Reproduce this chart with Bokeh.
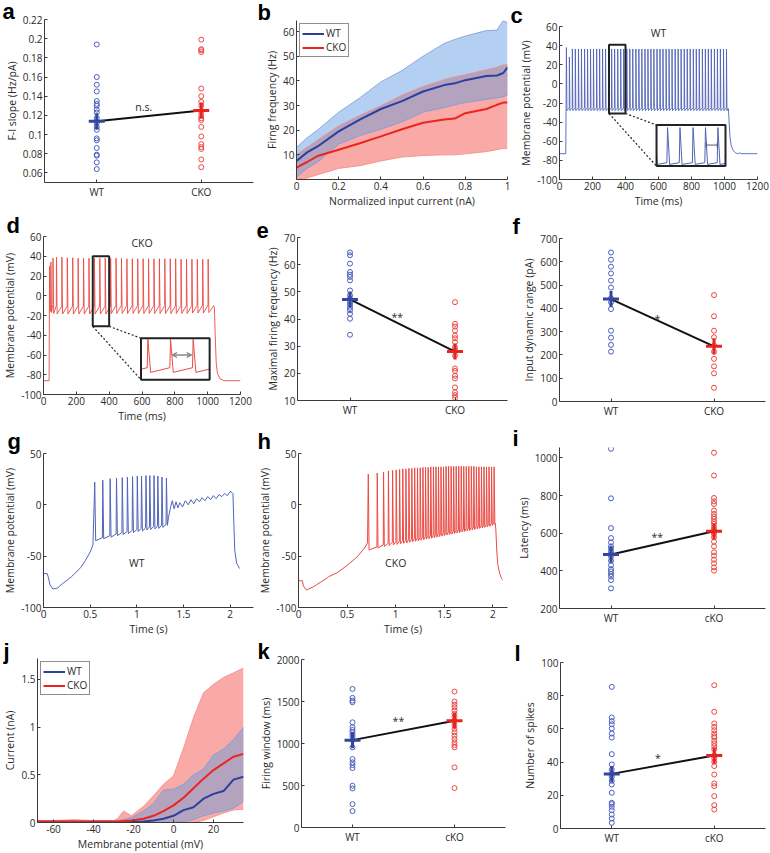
import numpy as np
from bokeh.plotting import figure
from bokeh.models import (Range1d, FixedTicker, PrintfTickFormatter, Label, Legend,
                          LegendItem, Arrow, VeeHead, TeeHead)
from bokeh.layouts import row, column
from bokeh.embed import file_html
from bokeh.resources import INLINE

# ======================= DATA =======================
groups_upper = ["WT", "CKO"]
groups_lower = ["WT", "cKO"]

# (a) F-I slope (Hz/pA)
fi_wt = [0.194, 0.160, 0.152, 0.145, 0.135, 0.132, 0.130, 0.126, 0.123, 0.117,
         0.112, 0.108, 0.105, 0.096, 0.094, 0.086, 0.079, 0.078, 0.071, 0.064]
fi_cko = [0.199, 0.189, 0.188, 0.186, 0.148, 0.140, 0.134, 0.130, 0.124, 0.120,
          0.117, 0.115, 0.108, 0.098, 0.090, 0.087, 0.085, 0.074, 0.066]
fi_mean = [0.114, 0.125]
fi_yticks = [0.06, 0.08, 0.10, 0.12, 0.14, 0.16, 0.18, 0.20, 0.22]

# (b) firing frequency vs normalized current
b_x = [0, 0.05, 0.1, 0.2, 0.3, 0.4, 0.5, 0.6, 0.7, 0.75, 0.8, 0.9, 0.95, 0.98, 1.0]
b_wt_mean = [7.5, 11.0, 13.4, 19.5, 24.3, 28.6, 31.8, 35.7, 38.3, 39.0, 40.3, 42.0, 42.2, 43.2, 45.5]
b_wt_hi = [13.0, 16.9, 20.1, 27.3, 33.1, 39.6, 44.2, 50.0, 55.2, 56.8, 58.2, 60.4, 60.6, 64.5, 63.6]
b_wt_lo = [0.9, 4.5, 7.1, 14.3, 17.8, 20.4, 23.4, 27.3, 29.2, 30.3, 31.2, 32.5, 33.1, 33.6, 34.2]
b_cko_mean = [4.8, 7.1, 9.5, 12.1, 14.7, 17.5, 20.4, 23.0, 24.3, 24.7, 26.9, 28.6, 30.3, 31.2, 31.2]
b_cko_hi = [10.0, 13.0, 16.0, 21.7, 26.0, 29.9, 34.2, 37.7, 40.5, 41.6, 42.5, 44.5, 45.5, 46.4, 46.5]
b_cko_lo = [0.0, 0.6, 1.9, 4.5, 5.6, 7.5, 9.1, 9.7, 10.0, 10.0, 10.4, 11.3, 12.1, 12.6, 12.6]
b_xticks = [0, 0.2, 0.4, 0.6, 0.8, 1.0]
b_yticks = [10, 20, 30, 40, 50, 60]

# (c) WT trace (ms, mV)
c_pre_t = [0, 38]
c_pre_v = [-73, -73]
c_spk_t = [42, 60, 78, 96, 115, 133, 152, 170, 188, 206, 225, 243, 261, 279, 298, 316,
           334, 353, 371, 389, 408, 426, 444, 463, 481, 499, 518, 536, 554, 572, 591,
           609, 627, 646, 664, 682, 701, 719, 737, 756, 774, 792, 811, 829, 847, 866,
           884, 902, 920, 939, 957, 975, 994, 1012]
c_first_peaks = [38, 28]
c_peak_level = 36.5
c_trough_level = -28
c_post_t = [1020, 1024, 1028, 1033, 1040, 1050, 1065, 1080, 1088, 1092, 1100, 1200]
c_post_v = [-26, -26, -40, -55, -64, -69, -72, -73, -72.5, -72, -73, -73]

# (d) CKO trace (ms, mV)
d_pre_t = [0, 34]
d_pre_v = [-86, -86]
d_spk_t = [37, 45, 58, 79, 112, 145, 178, 211, 244, 277, 310, 343, 376, 409, 442, 475,
           508, 541, 574, 607, 640, 673, 706, 739, 772, 805, 838, 871, 904, 937, 970, 1003]
d_spk_pk = [30, 34, 38, 39, 39, 38.5, 38.5, 38, 38, 38, 38, 38, 38, 38, 38, 38,
            37.5, 37.5, 37.5, 37.5, 37.5, 37.5, 37.5, 37.5, 37.5, 37.5, 37, 37, 37, 37, 37, 37]
d_spk_tr = [-16, -17, -18, -18.5, -18.5, -18.5, -18.5, -18.5, -18.5, -18.5, -18.5, -18.5,
            -18.5, -18, -18, -18, -18, -18, -18, -18, -18, -18, -18, -18, -18, -18, -18,
            -18, -17.5, -17.5, -17.5, -17]
d_post_t = [1012, 1030, 1036, 1041, 1046, 1052, 1060, 1075, 1100, 1200]
d_post_v = [-16, -12, -10, -12, -40, -68, -79, -84, -86, -86]
trace_ms_xticks = [0, 200, 400, 600, 800, 1000, 1200]
trace_ms_yticks = [-100, -80, -60, -40, -20, 0, 20, 40, 60]

# (e) maximal firing frequency (Hz)
mf_wt = [64.5, 63.5, 60.4, 57.3, 56.3, 55.5, 54.2, 50.5, 48.7, 47.5, 46.2, 45.2, 44.1,
         43.2, 41.9, 40.1, 34.2]
mf_cko = [46.2, 38.2, 37.2, 35.8, 33.9, 32.9, 31.5, 29.6, 28.5, 26.5, 21.8, 20.9, 19.1,
          18.1, 14.8, 13.0, 12.0, 11.0]
mf_mean = [47.2, 28.0]
mf_yticks = [10, 20, 30, 40, 50, 60, 70]

# (f) input dynamic range (pA)
dr_wt = [640, 609, 579, 550, 519, 489, 443, 426, 397, 304, 274, 243, 214]
dr_cko = [457, 366, 304, 276, 240, 214, 183, 151, 121, 59]
dr_mean = [440, 237]
dr_yticks = [0, 100, 200, 300, 400, 500, 600, 700]

# (g) WT ramp trace (s, mV)
g_pre_t = [0, 0.04, 0.05, 0.07, 0.1, 0.15, 0.2, 0.3, 0.4, 0.45, 0.5, 0.53]
g_pre_v = [-67, -67, -70, -78, -82, -81, -77, -70, -61, -54, -46, -39]
g_spk_t = [0.549, 0.635, 0.714, 0.782, 0.844, 0.899, 0.954, 1.005, 1.050, 1.098,
           1.139, 1.184, 1.225, 1.269, 1.317]
g_spk_pk = [22, 24, 25.5, 26, 26.5, 27, 27.5, 28, 28, 28.5, 28.5, 28.5, 28, 27, 26]
g_spk_tr = [-35, -33, -31.5, -30, -29, -28, -27, -26, -25.5, -24.5, -24, -23.5, -23, -22, -20]
g_post_t = [1.34, 1.36, 1.38, 1.40, 1.42, 1.44, 1.46, 1.49, 1.52, 1.55, 1.58, 1.61, 1.64,
            1.67, 1.70, 1.73, 1.76, 1.79, 1.82, 1.85, 1.88, 1.91, 1.94, 1.97, 2.00, 2.02,
            2.03, 2.04, 2.05, 2.07, 2.10]
g_post_v = [-12, -3, 4, -4, 3, -3, 2, -2, 4, 0, 5, 1, 6, 3, 7, 4, 8, 5, 9, 6, 10, 8, 11,
            9, 13, 12, 11, -20, -45, -57, -62]

# (h) CKO ramp trace (s, mV)
h_pre_t = [0, 0.04, 0.05, 0.08, 0.15, 0.2, 0.3, 0.31, 0.4, 0.5, 0.6, 0.68, 0.71]
h_pre_v = [-74, -74, -79, -83, -80, -77, -71, -70, -66, -59, -51, -42, -37]
h_spk_t = [0.718, 0.810, 0.875, 0.925, 0.968, 1.005, 1.040, 1.073, 1.105, 1.136,
           1.166, 1.195, 1.224, 1.252, 1.280, 1.307, 1.334, 1.361, 1.388, 1.414,
           1.440, 1.466, 1.492, 1.518, 1.544, 1.570, 1.596, 1.622, 1.648, 1.674,
           1.700, 1.726, 1.752, 1.778, 1.804, 1.830, 1.856, 1.882, 1.908, 1.934,
           1.960, 1.986, 2.012]
h_spk_pk = [30, 31, 32, 33, 33.5, 34, 34.5, 35, 35, 35.5, 35.5, 36, 36, 36, 36.5,
            36.5, 36.5, 37, 37, 37, 37, 37, 37, 37.5, 37.5, 37.5, 37.5, 37.5, 37.5,
            37.5, 37.5, 37.5, 37.5, 37.5, 37.5, 37, 37, 37, 37, 37, 37, 37, 37]
h_spk_tr = [-44, -42, -40.5, -39.5, -39, -38.5, -38, -37.5, -37, -36.5, -36, -35.5,
            -35, -34.5, -34, -33.5, -33, -32.5, -32, -31.5, -31, -30.5, -30, -29.5,
            -29, -28.5, -28, -27.5, -27, -26.5, -26, -25.5, -25, -24.5, -24, -23.5,
            -23, -22.5, -22, -21.5, -21, -20, -19]
h_post_t = [2.024, 2.03, 2.04, 2.05, 2.07, 2.09, 2.10]
h_post_v = [-18, -24, -45, -58, -67, -72, -73]
trace_s_xticks = [0, 0.5, 1, 1.5, 2]
trace_s_yticks = [-100, -50, 0, 50]

# (i) latency (ms)
lat_wt = [1048, 785, 627, 574, 551, 530, 519, 503, 489, 476, 453, 430, 409, 397, 383,
          370, 351, 307]
lat_cko = [1027, 906, 787, 769, 755, 720, 702, 688, 676, 661, 649, 631, 619, 610, 596,
           578, 555, 530, 498, 481, 459, 440, 418, 401]
lat_mean = [487, 610]
lat_yticks = [200, 400, 600, 800, 1000]

# (j) I-V curves (mV, nA)
j_x = [-68, -60, -50, -40, -30, -28, -25, -21, -15, -10, -5, 0, 5, 10, 15, 20, 25, 30, 35]
j_cko_hi = [0.02, 0.02, 0.03, 0.02, 0.02, 0.04, 0.12, 0.07, 0.17, 0.28, 0.40, 0.49, 0.78,
            1.10, 1.36, 1.45, 1.52, 1.57, 1.62]
j_cko_mean = [0.01, 0.01, 0.01, 0.01, 0.01, 0.01, 0.015, 0.02, 0.04, 0.07, 0.12, 0.18,
              0.26, 0.36, 0.46, 0.55, 0.62, 0.69, 0.72]
j_cko_lo = [0, 0, 0, 0, 0, 0, 0, 0, 0, 0, 0, 0, 0, 0, 0.02, 0.06, 0.10, 0.13, 0.14]
j_wt_hi = [0.02, 0.02, 0.02, 0.02, 0.02, 0.02, 0.03, 0.05, 0.12, 0.20, 0.34, 0.35, 0.40,
           0.50, 0.56, 0.71, 0.77, 0.87, 1.00]
j_wt_mean = [0.005, 0.005, 0.005, 0.005, 0.005, 0.005, 0.005, 0.005, 0.01, 0.02, 0.04,
             0.07, 0.13, 0.16, 0.25, 0.30, 0.33, 0.45, 0.48]
j_wt_lo = [0, 0, 0, 0, 0, 0, 0, 0, -0.02, -0.01, 0, 0, 0.01, 0.03, 0.07, 0.10, 0.12,
           0.15, 0.22]
j_xticks = [-60, -40, -20, 0, 20]
j_yticks = [0, 0.5, 1, 1.5]

# (k) firing window (ms)
fw_wt = [1650, 1543, 1511, 1491, 1252, 1193, 1161, 1133, 1105, 1074, 1042, 954, 815,
         775, 744, 708, 497, 465, 278, 195]
fw_cko = [1618, 1499, 1463, 1431, 1392, 1352, 1312, 1272, 1221, 1173, 1133, 1093, 1054,
          1014, 982, 954, 716, 469]
fw_mean = [1040, 1270]
fw_yticks = [0, 500, 1000, 1500, 2000]

# (l) number of spikes
ns_wt = [85.3, 66.9, 64.7, 62.8, 60.2, 57.2, 54.8, 44.8, 38.6, 35.5, 32.9, 31.1, 28.7,
         26.5, 21.5, 15.5, 14.7, 13.1, 11.0, 8.4, 6.0, 3.4]
ns_cko = [86.3, 70.3, 63.3, 61.2, 59.2, 57.2, 55.6, 54.8, 52.8, 51.2, 49.6, 47.8, 44.2,
          42.2, 40.2, 37.6, 32.5, 27.1, 25.5, 19.5, 14.1, 11.4]
ns_mean = [32.9, 44.0]
ns_yticks = [0, 20, 40, 60, 80, 100]

# ======================= STYLE / LAYOUT =======================
FONT = "Open Sans"
LETTER_FONT = "Liberation Sans"
TICK_SIZE = "10px"
LABEL_SIZE = "10.5px"
AX = "#3a3a3a"
TXT = "#2a2a2a"
BLUE_PT, RED_PT = "#4b5fbd", "#ea4a45"
BLUE_M, RED_M = "#34479e", "#e62520"
BLUE_TR, RED_TR = "#5064b8", "#ea4b44"
BAND_B, BAND_R, BAND_O = "#b3cff2", "#f9aaa6", "#b4a3bf"
EDGE_B, EDGE_R = "#7e98d6", "#f08a85"
LINE_B, LINE_R = "#2d3f9c", "#ec2420"

COL_W = [255, 255, 260]
ROW_H = [210, 215, 215, 213]
POS = {"a": (0, 0), "b": (0, 1), "c": (0, 2), "d": (1, 0), "e": (1, 1), "f": (1, 2),
       "g": (2, 0), "h": (2, 1), "i": (2, 2), "j": (3, 0), "k": (3, 1), "l": (3, 2)}
# borders: left, right, top, bottom
BORD = {"a": (44, 2, 19, 28), "b": (41, 3, 20, 28), "c": (49, 13, 26, 28),
        "d": (39, 15, 26, 27), "e": (42, 3, 27, 25), "f": (49, 5, 28, 24),
        "g": (38, 2, 28, 33), "h": (43, 3, 28, 33), "i": (49, 5, 22, 32),
        "j": (36, 12, 18, 28), "k": (44, 5, 19, 26), "l": (50, 5, 22, 25)}
# panel letter x inside its panel, and title standoff (sets letter height)
LETTER_X = {"a": 2, "b": 2, "c": 0, "d": 2, "e": 1, "f": 2, "g": 2, "h": 2, "i": 2,
            "j": 2, "k": 0, "l": 4}
LETTER_STANDOFF = {"a": -9, "b": -8, "c": -2, "d": -2, "e": -1, "f": 0, "g": 0,
                   "h": 0, "i": -6, "j": -10, "k": -9, "l": -6}


def base_fig(key, xr, yr, xticks=None, yticks=None, xlabel=None, ylabel=None):
    l, r, t, b = BORD[key]
    ri, ci = POS[key]
    p = figure(width=COL_W[ci], height=ROW_H[ri], x_range=Range1d(*xr), y_range=Range1d(*yr),
               output_backend="svg", toolbar_location=None, title=key,
               min_border_left=l, min_border_right=r, min_border_top=t, min_border_bottom=b)
    p.title.text_font = LETTER_FONT
    p.title.text_font_size = "22px"
    p.title.text_font_style = "bold"
    p.title.text_color = "black"
    p.title.align = "left"
    p.title.vertical_align = "bottom"
    p.title.offset = LETTER_X[key] - l
    p.title.standoff = LETTER_STANDOFF[key]
    p.outline_line_color = None
    p.xgrid.visible = False
    p.ygrid.visible = False
    p.background_fill_color = "white"
    p.border_fill_color = "white"
    for ax in (p.xaxis[0], p.yaxis[0]):
        ax.axis_line_color = AX
        ax.axis_line_width = 1
        ax.major_tick_line_color = AX
        ax.major_tick_in = 3
        ax.major_tick_out = 0
        ax.minor_tick_line_color = None
        ax.major_label_text_font = FONT
        ax.major_label_text_font_size = TICK_SIZE
        ax.major_label_text_color = TXT
        ax.major_label_standoff = 2
        ax.axis_label_text_font = FONT
        ax.axis_label_text_font_size = LABEL_SIZE
        ax.axis_label_text_font_style = "normal"
        ax.axis_label_text_color = TXT
        ax.axis_label_standoff = 1
    if xticks is not None:
        p.xaxis[0].ticker = FixedTicker(ticks=xticks)
        p.xaxis[0].formatter = PrintfTickFormatter(format="%g")
    if yticks is not None:
        p.yaxis[0].ticker = FixedTicker(ticks=yticks)
        p.yaxis[0].formatter = PrintfTickFormatter(format="%g")
    if xlabel:
        p.xaxis[0].axis_label = xlabel
    if ylabel:
        p.yaxis[0].axis_label = ylabel
    return p


def note(p, x, y, text, size="10.5px"):
    p.add_layout(Label(x=x, y=y, text=text, text_font=FONT, text_font_size=size,
                       text_color=TXT, text_align="center", text_baseline="middle"))


def scatter_panel(key, wt, cko, means, yr, yticks, groups, ylabel, sig, sig_y):
    p = base_fig(key, (0.5, 2.5), yr, yticks=yticks, ylabel=ylabel)
    p.xaxis[0].ticker = FixedTicker(ticks=[1, 2])
    p.xaxis[0].major_label_overrides = {1: groups[0], 2: groups[1]}
    p.scatter(x=[1] * len(wt), y=wt, marker="circle", size=5, fill_color=None,
              line_color=BLUE_PT, line_width=1)
    p.scatter(x=[2] * len(cko), y=cko, marker="circle", size=5, fill_color=None,
              line_color=RED_PT, line_width=1)
    p.line(x=[1, 2], y=means, line_color="#111111", line_width=2)
    p.scatter(x=[1, 2], y=means, marker="cross", size=16, line_width=3,
              line_color=[BLUE_M, RED_M])
    note(p, 1.45, sig_y, sig)
    return p


def build_trace(pre_t, pre_v, spk_t, spk_pk, spk_tr, ramp, up, down, post_t, post_v):
    t = list(pre_t)
    v = list(pre_v)
    for i, ts in enumerate(spk_t):
        if i > 0:
            t.append(ts - up)
            v.append(spk_tr[i - 1] + ramp)
        t.append(ts)
        v.append(spk_pk[i])
        t.append(ts + down)
        v.append(spk_tr[i])
    t += list(post_t)
    v += list(post_v)
    return np.array(t, float), np.array(v, float)


def inset_xy(t, v, src, dst):
    t0, t1, v0, v1 = src
    x0, x1, y0, y1 = dst
    m = (t > t0) & (t < t1)
    tt = np.concatenate([[t0], t[m], [t1]])
    vv = np.concatenate([[np.interp(t0, t, v)], v[m], [np.interp(t1, t, v)]])
    return x0 + (tt - t0) / (t1 - t0) * (x1 - x0), y0 + (vv - v0) / (v1 - v0) * (y1 - y0)


def legend(p, r1, r2, loc):
    lg = Legend(items=[LegendItem(label="WT", renderers=[r1]),
                       LegendItem(label="CKO", renderers=[r2])],
                location=loc, border_line_color="#222222", border_line_width=1,
                background_fill_color="white", background_fill_alpha=1,
                label_text_font=FONT, label_text_font_size="10px", label_text_color=TXT,
                glyph_width=22, glyph_height=11, label_height=11, spacing=0,
                padding=2, margin=3, label_standoff=2)
    p.add_layout(lg)


def band_panel(p, x, wt_lo, wt_hi, wt_m, ck_lo, ck_hi, ck_m):
    x = np.array(x, float)
    wt_lo, wt_hi = np.array(wt_lo, float), np.array(wt_hi, float)
    ck_lo, ck_hi = np.array(ck_lo, float), np.array(ck_hi, float)
    ov_lo = np.maximum(wt_lo, ck_lo)
    ov_hi = np.maximum(np.minimum(wt_hi, ck_hi), ov_lo)
    p.varea(x=x, y1=ck_lo, y2=ck_hi, fill_color=BAND_R)
    p.varea(x=x, y1=wt_lo, y2=wt_hi, fill_color=BAND_B)
    p.varea(x=x, y1=ov_lo, y2=ov_hi, fill_color=BAND_O)
    p.line(x, ck_lo, line_color=EDGE_R, line_width=0.8)
    p.line(x, ck_hi, line_color=EDGE_R, line_width=0.8)
    p.line(x, wt_lo, line_color=EDGE_B, line_width=0.8)
    p.line(x, wt_hi, line_color=EDGE_B, line_width=0.8)
    r1 = p.line(x, wt_m, line_color=LINE_B, line_width=2)
    r2 = p.line(x, ck_m, line_color=LINE_R, line_width=2)
    return r1, r2


def trace_ms_panel(key, t, v, color, name, small_box, inset_box, arrow_kind, arrow_pair,
                   arrow_v):
    p = base_fig(key, (0, 1200), (-100, 60), xticks=trace_ms_xticks, yticks=trace_ms_yticks,
                 xlabel="Time (ms)", ylabel="Membrane potential (mV)")
    p.line(t, v, line_color=color, line_width=0.9)
    t0, t1, v0, v1 = small_box
    x0, x1, y0, y1 = inset_box
    p.quad(left=[t0], right=[t1], bottom=[v0], top=[v1], fill_color=None,
           line_color="#222222", line_width=2)
    p.line([t0, x0], [v0, y0], line_color="#222222", line_width=1.2, line_dash="2 2")
    p.line([t1, x0], [v0, y1], line_color="#222222", line_width=1.2, line_dash="2 2")
    p.quad(left=[x0], right=[x1], bottom=[y0], top=[y1], fill_color="white",
           line_color=None)
    ix, iy = inset_xy(t, v, small_box, inset_box)
    p.line(ix, iy, line_color=color, line_width=1)
    p.quad(left=[x0], right=[x1], bottom=[y0], top=[y1], fill_color=None,
           line_color="#222222", line_width=2)
    ax0 = x0 + (arrow_pair[0] - t0) / (t1 - t0) * (x1 - x0)
    ax1 = x0 + (arrow_pair[1] - t0) / (t1 - t0) * (x1 - x0)
    if arrow_kind == "tee":
        p.add_layout(Arrow(x_start=ax0 + 4, y_start=arrow_v, x_end=ax1 - 4, y_end=arrow_v,
                           line_color="#556", line_width=1,
                           start=TeeHead(size=5, line_color="#556", line_width=1),
                           end=TeeHead(size=5, line_color="#556", line_width=1)))
    else:
        p.add_layout(Arrow(x_start=ax0 + 8, y_start=arrow_v, x_end=ax1 - 8, y_end=arrow_v,
                           line_color="#888888", line_width=1.5,
                           start=VeeHead(size=5, line_color="#888888", fill_color="#888888"),
                           end=VeeHead(size=5, line_color="#888888", fill_color="#888888")))
    note(p, 600, 53, name)
    return p


def trace_s_panel(key, t, v, color, name, xend):
    p = base_fig(key, (0, xend), (-100, 50), xticks=trace_s_xticks, yticks=trace_s_yticks,
                 xlabel="Time (s)", ylabel="Membrane potential (mV)")
    p.line(t, v, line_color=color, line_width=1)
    note(p, 1.0, -57, name)
    return p


# ======================= PANELS =======================
pa = scatter_panel("a", fi_wt, fi_cko, fi_mean, (0.05, 0.22), fi_yticks, groups_upper,
                   "F-I slope (Hz/pA)", "n.s.", 0.129)

pb = base_fig("b", (0, 1), (0, 64.5), xticks=b_xticks, yticks=b_yticks,
              xlabel="Normalized input current (nA)", ylabel="Firng frequency (Hz)")
rb1, rb2 = band_panel(pb, b_x, b_wt_lo, b_wt_hi, b_wt_mean, b_cko_lo, b_cko_hi, b_cko_mean)
legend(pb, rb1, rb2, "top_left")

c_pk = c_first_peaks + [c_peak_level] * (len(c_spk_t) - len(c_first_peaks))
c_tr = [c_trough_level] * len(c_spk_t)
tc, vc = build_trace(c_pre_t, c_pre_v, c_spk_t, c_pk, c_tr, 3.0, 1.0, 3.0, c_post_t, c_post_v)
pc = trace_ms_panel("c", tc, vc, BLUE_TR, "WT", (300, 400, -31, 41), (588, 1006, -86, -43),
                    "tee", (c_spk_t[18], c_spk_t[19]), -64)

td, vd = build_trace(d_pre_t, d_pre_v, d_spk_t, d_spk_pk, d_spk_tr, 8.0, 1.0, 4.0,
                     d_post_t, d_post_v)
pd = trace_ms_panel("d", td, vd, RED_TR, "CKO", (300, 400, -31, 40), (594, 1012, -85, -43),
                    "vee", (d_spk_t[11], d_spk_t[12]), -60)

pe = scatter_panel("e", mf_wt, mf_cko, mf_mean, (10, 70), mf_yticks, groups_upper,
                   "Maximal firing frequency (Hz)", "**", 40.7)
pf = scatter_panel("f", dr_wt, dr_cko, dr_mean, (0, 700), dr_yticks, groups_upper,
                   "Input dynamic range (pA)", "*", 355)

tg, vg = build_trace(g_pre_t, g_pre_v, g_spk_t, g_spk_pk, g_spk_tr, 3.0, 0.004, 0.01,
                     g_post_t, g_post_v)
pg = trace_s_panel("g", tg, vg, BLUE_TR, "WT", 2.25)
th, vh = build_trace(h_pre_t, h_pre_v, h_spk_t, h_spk_pk, h_spk_tr, 3.0, 0.003, 0.008,
                     h_post_t, h_post_v)
ph = trace_s_panel("h", th, vh, RED_TR, "CKO", 2.15)

pi = scatter_panel("i", lat_wt, lat_cko, lat_mean, (200, 1055), lat_yticks, groups_lower,
                   "Latency (ms)", "**", 580)

pj = base_fig("j", (-68, 35), (0, 1.72), xticks=j_xticks, yticks=j_yticks,
              xlabel="Membrane potential (mV)", ylabel="Current (nA)")
rj1, rj2 = band_panel(pj, j_x, j_wt_lo, j_wt_hi, j_wt_mean, j_cko_lo, j_cko_hi, j_cko_mean)
legend(pj, rj1, rj2, "top_left")

pk = scatter_panel("k", fw_wt, fw_cko, fw_mean, (0, 2000), fw_yticks, groups_lower,
                   "Firing window (ms)", "**", 1265)
pl = scatter_panel("l", ns_wt, ns_cko, ns_mean, (0, 100), ns_yticks, groups_lower,
                   "Number of spikes", "*", 42.5)

layout = column(
    row(column(pa), column(pb), column(pc)),
    row(column(pd), column(pe), column(pf)),
    row(column(pg), column(ph), column(pi)),
    row(column(pj), column(pk), column(pl)),
)

open("out.html", "w").write(file_html(layout, INLINE))
